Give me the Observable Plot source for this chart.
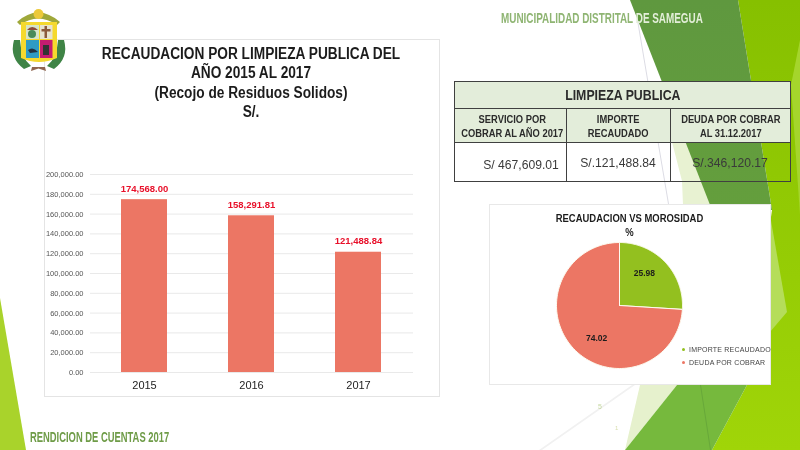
<!DOCTYPE html>
<html><head><meta charset="utf-8">
<script src="https://cdn.jsdelivr.net/npm/d3@7"></script>
<script src="https://cdn.jsdelivr.net/npm/@observablehq/plot@0.6"></script>
<style>
html,body{margin:0;padding:0;background:#fff;}
#page{position:relative;width:800px;height:450px;overflow:hidden;background:#fff;font-family:"Liberation Sans",Arial,sans-serif;filter:blur(.35px);}
.shape{position:absolute;inset:0;}
.abs{position:absolute;}
.panel{position:absolute;background:#fff;border:1px solid #e4e4e4;box-sizing:border-box;}
.t{position:absolute;text-align:center;font-weight:bold;color:#1c1c1c;white-space:nowrap;}
.banner{position:absolute;font:bold 15px 'Liberation Sans',sans-serif;transform-origin:left center;white-space:nowrap;}
table{position:absolute;left:454px;top:81px;width:336px;height:100px;border-collapse:collapse;table-layout:fixed;color:#2b2b2b;}
td{border:1px solid #404040;text-align:center;padding:0;}
.h{background:#e3edda;}
.sq{display:inline-block;white-space:nowrap;}
svg{display:block;background:transparent !important;}
</style></head><body>
<div id="page">
<div class="shape" style="background:#a9d32b;clip-path:polygon(0 298px,26px 450px,0 450px)"></div>
<div class="shape" style="background:linear-gradient(180deg,#86c000,#a0d508);clip-path:polygon(738px 0,800px 0,800px 450px,712px 450px,747px 385px,772px 210px)"></div>
<div class="shape" style="background:#a5d52c;clip-path:polygon(800px 40px,791px 85px,800px 215px)"></div>
<div class="shape" style="background:#b5dd5a;clip-path:polygon(770px 215px,787px 312px,770px 332px)"></div>
<div class="shape" style="background:#e8f2d2;clip-path:polygon(672px 142px,692px 142px,712px 205px,683px 205px,682px 181px)"></div>
<div class="shape" style="background:#e6f1cd;clip-path:polygon(640px 385px,677px 385px,625px 450px)"></div>
<div class="shape" style="background:#76b93d;clip-path:polygon(677px 385px,747px 385px,712px 450px,625px 450px)"></div>
<div class="shape" style="background:#68a83a;clip-path:polygon(700px 385px,701px 385px,711px 450px,710px 450px)"></div>
<div class="shape" style="background:linear-gradient(180deg,#5f983f,#6aa63a);clip-path:polygon(630px 0,738px 0,772px 210px,712px 210px)"></div>
<div class="shape" style="background:#dcdce4;clip-path:polygon(637px 20px,638px 20px,669px 204px,668px 204px)"></div>
<div class="shape" style="background:#f1f1f1;clip-path:polygon(632px 385px,635px 385px,542px 450px,539px 450px)"></div>
<div class="abs" style="left:598px;top:403px;font-size:7px;color:#c5d8a0">5</div>
<div class="abs" style="left:615px;top:425px;font-size:6px;color:#d8dfae">1</div>

<div class="banner" style="left:501px;top:9px;color:#8fb573;transform:scaleX(.66)">MUNICIPALIDAD DISTRITAL <span style="color:#e3eed8">DE SAMEGUA</span></div>
<div class="banner" style="left:30px;top:428px;color:#6f9c48;transform:scaleX(.626)">RENDICION DE CUENTAS 2017</div>

<div class="panel" style="left:44px;top:39px;width:396px;height:358px"></div>
<div class="t" style="left:44px;width:414px;top:44px;font-size:16px;line-height:19.3px;transform:scaleX(.855)">RECAUDACION POR LIMPIEZA PUBLICA DEL<br>AÑO 2015 AL 2017<br>(Recojo de Residuos Solidos)<br>S/.</div>
<div id="bars" class="abs" style="left:44px;top:150px"></div>

<svg class="abs" style="left:0;top:0" width="70" height="76" aria-hidden="true">
<path d="M14 40 Q9 58 24 69 L31 66 Q21 58 20 40Z" fill="#3f8446"/>
<path d="M64 40 Q69 58 54 69 L47 66 Q57 58 58 40Z" fill="#3f8446"/>
<path d="M32 67 L45 67 L46 71 L38.5 68.5 L31 71Z" fill="#8f6650"/>
<path d="M17 22 Q38 3 60 22 L57 25 Q38 12 20 25Z" fill="#9fa83a"/>
<circle cx="38.5" cy="14" r="5" fill="#ecc93a"/>
<path d="M21 22 H57 V58 Q39 66 21 58Z" fill="#f5d92e"/>
<rect x="26" y="25" width="13" height="14" fill="#d7e4c8"/>
<rect x="40" y="25" width="12.5" height="14" fill="#e7e3cf"/>
<rect x="26" y="40" width="13" height="18" fill="#2f9bc4"/>
<rect x="40" y="40" width="12.5" height="18" fill="#c51c70"/>
<rect x="44.5" y="26" width="2.5" height="12" fill="#8b5a3c"/><rect x="41.5" y="29" width="9" height="2.5" fill="#8b5a3c"/>
<path d="M27 30 Q32 24 38 30Z" fill="#8b4a3a"/><circle cx="32" cy="34" r="4" fill="#4a8a58"/>
<path d="M28 50 Q33 46 38 52 L30 53Z" fill="#234"/><rect x="43" y="45" width="6" height="10" fill="#333"/>
</svg>

<table id="tbl">
<colgroup><col style="width:112px"><col style="width:104px"><col style="width:120px"></colgroup>
<tr style="height:27px"><td class="h" colspan="3" style="font-weight:bold;font-size:14.5px"><span class="sq" id="tt" style="transform:scaleX(.85)"></span></td></tr>
<tr style="height:34px" id="hdr"></tr>
<tr style="height:39px" id="vals"></tr>
</table>

<div class="panel" style="left:489px;top:204px;width:282px;height:181px;border-color:#e8e8e8"></div>
<div class="t" style="left:489px;width:281px;top:210.5px;font-size:10.5px;line-height:14px;transform:scaleX(.9);">RECAUDACION VS MOROSIDAD<br>%</div>
<div id="pie" class="abs" style="left:489px;top:204px"></div>
<div id="leg" class="abs" style="left:682px;top:342.5px;font-size:7px;line-height:13px;color:#444;letter-spacing:.2px;white-space:nowrap"></div>
</div>
<script>
// Bar chart values
const years = ["2015", "2016", "2017"];
const collected = [174568.00, 158291.81, 121488.84];
// Pie values
const pieNames = ["IMPORTE RECAUDADO", "DEUDA POR COBRAR"];
const pieShares = [25.98, 74.02];
const pieColors = ["#93c01f", "#ec7664"];
// Table
const tableTitle = "LIMPIEZA PUBLICA";
const tableHeads = ["SERVICIO POR<br>COBRAR AL AÑO 2017", "IMPORTE<br>RECAUDADO", "DEUDA POR COBRAR<br>AL 31.12.2017"];
const tableValues = ["S/ 467,609.01", "S/.121,488.84", "S/.346,120.17"];

const barRows = years.map((y, i) => ({year: y, value: collected[i]}));
const fmt = d3.format(",.2f");
const yTicks = d3.range(0, 200001, 20000);

document.getElementById("bars").append(Plot.plot({
  width: 395, height: 246, marginLeft: 46, marginRight: 26, marginTop: 24, marginBottom: 24,
  style: {background: "transparent", overflow: "visible", fontFamily: "Liberation Sans, sans-serif"},
  x: {domain: years, paddingInner: 0.57, paddingOuter: 0.285, label: null, tickSize: 0},
  y: {domain: [0, 200000], label: null},
  marks: [
    Plot.gridY(yTicks, {stroke: "#e9e9e9", strokeOpacity: 1}),
    Plot.barY(barRows, {x: "year", y: "value", fill: "#ec7664"}),
    Plot.text(barRows, {x: "year", y: "value", text: d => fmt(d.value), dy: -11, fill: "#e8102a", fontWeight: "bold", fontSize: 9.5}),
    Plot.axisY(yTicks, {tickSize: 0, tickPadding: 7, tickFormat: fmt, fontSize: 7.5, color: "#555", label: null}),
    Plot.axisX({tickSize: 0, tickPadding: 9, fontSize: 11, color: "#222", label: null})
  ]
}));

// Pie outline points derived from the shares
const slices = [];
let acc = 0;
pieShares.forEach((s, i) => {
  const a0 = acc / 100 * 2 * Math.PI, a1 = (acc + s) / 100 * 2 * Math.PI;
  const pts = [{name: pieNames[i], px: 0, py: 0}];
  d3.range(0, 121).forEach(k => {
    const a = a0 + (a1 - a0) * k / 120;
    pts.push({name: pieNames[i], px: Math.sin(a), py: Math.cos(a)});
  });
  pts.push({name: pieNames[i], px: 0, py: 0});
  slices.push(...pts);
  acc += s;
});
acc = 0;
const pieLabels = pieShares.map((s, i) => {
  const mid = (acc + s / 2) / 100 * 2 * Math.PI; acc += s;
  return {share: s, px: 0.65 * Math.sin(mid), py: 0.65 * Math.cos(mid)};
});

document.getElementById("pie").append(Plot.plot({
  width: 281, height: 180, margin: 0,
  style: {background: "transparent", fontFamily: "Liberation Sans, sans-serif"},
  x: {domain: [-1, 1], range: [67, 193], axis: null},
  y: {domain: [-1, 1], range: [164, 38], axis: null},
  color: {domain: pieNames, range: pieColors},
  marks: [
    Plot.line(slices, {x: "px", y: "py", z: "name", fill: "name", stroke: "#fdfbf0", strokeWidth: 1}),
    Plot.text(pieLabels.slice(0, 1), {x: "px", y: "py", text: d => d.share.toFixed(2), dx: -5, dy: -4, fontWeight: "bold", fontSize: 8.5, fill: "#1c1c1c"}),
    Plot.text(pieLabels.slice(1), {x: "px", y: "py", text: d => d.share.toFixed(2), dx: 7, dy: 5, fontWeight: "bold", fontSize: 8.5, fill: "#1c1c1c"})
  ]
}));

document.getElementById("tt").textContent = tableTitle;
document.getElementById("hdr").innerHTML = tableHeads.map(h => `<td class="h" style="font-size:10.5px;font-weight:bold;line-height:14px"><span class="sq" style="transform:scaleX(.89)">${h}</span></td>`).join("");
document.getElementById("vals").innerHTML = tableValues.map((v, i) => `<td style="font-size:13.5px;color:#3a3a3a;${i === 0 ? "padding:5px 0 0 22px" : ""}"><span class="sq" style="transform:scaleX(.9)">${v}</span></td>`).join("");
document.getElementById("leg").innerHTML = pieNames.map((n, i) => `<div><span style="display:inline-block;width:3px;height:3px;border-radius:50%;background:${pieColors[i]};margin-right:4px;vertical-align:middle"></span>${n}</div>`).join("");
</script>
</body></html>
